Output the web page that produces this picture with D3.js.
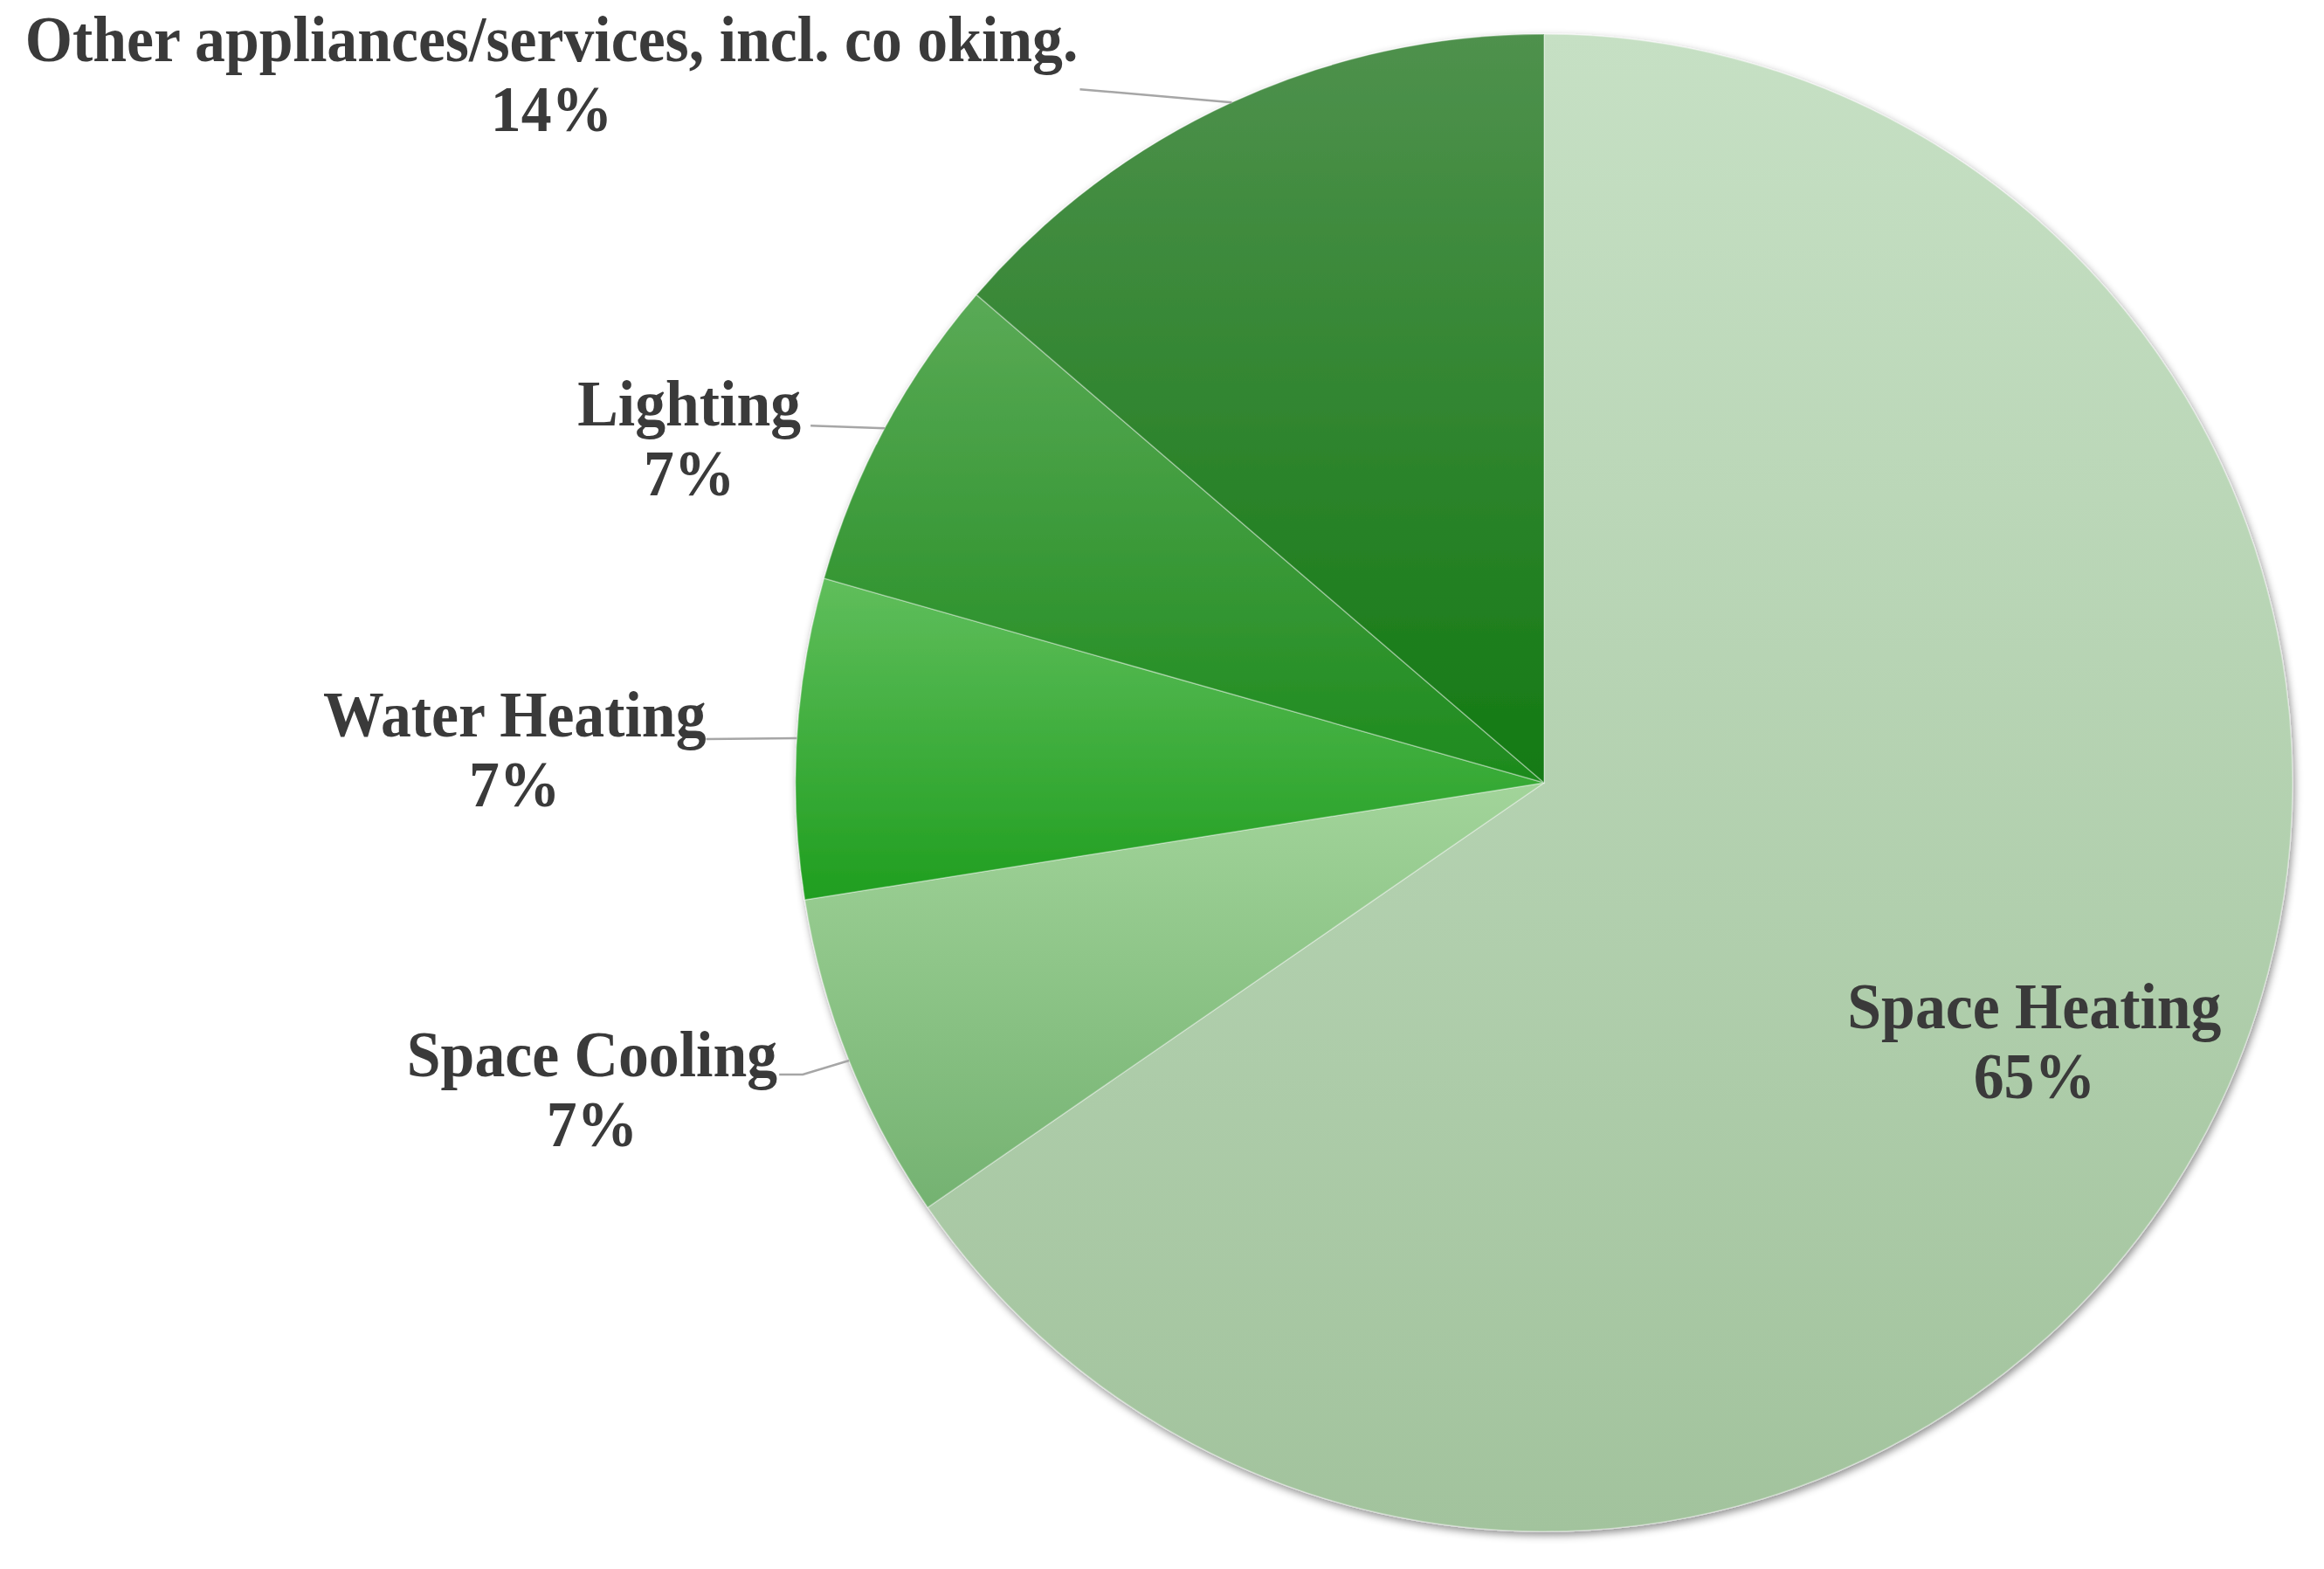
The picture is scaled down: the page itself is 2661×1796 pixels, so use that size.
<!DOCTYPE html>
<head>
<style>
  body { margin: 0; background: #fff; }
  .label { font-family: "Liberation Serif", "Times New Roman", serif; font-weight: bold; font-size: 75px; fill: #3a3a3a; }
  .leader { fill: none; stroke: #a6a6a6; stroke-width: 2.5px; }
</style>
</head>
<body>
<script src="https://cdn.jsdelivr.net/npm/d3@7"></script>
<script>
// values
var categories = ["Space Heating", "Space Cooling", "Water Heating", "Lighting", "Other appliances/services, incl. co oking."];
var shares = [65.4, 7.1, 6.9, 6.9, 13.7];
var shareLabels = ["65%", "7%", "7%", "7%", "14%"];
var topColors = ["#c6e0c4", "#a2d49a", "#60be5c", "#5aaa56", "#4f914d"];
var bottomColors = ["#a2c39d", "#74b271", "#1f9e1f", "#1d8a1d", "#137a13"];

var width = 2661, height = 1796;
var cx = 1768, cy = 896, radius = 857;

// label placement (offsets from the rim point at each slice's mid angle)
var labelLayout = [
    {inside: true, r: 0.74, dy: -14},
    {bend: [-53, 16], end: [-80, 16], gap: 2, dy: 2},
    {end: [-104, 1], gap: 0, dy: -3},
    {end: [-85, -3], gap: 11, dy: 0},
    {end: [-174, -15], gap: 2, dy: -32}
];
var lineHeight = 80;
var squeeze = 0.93; // serif labels in the picture are slightly condensed

var svg = d3.select("body").append("svg")
    .attr("width", width)
    .attr("height", height);

svg.append("rect").attr("width", width).attr("height", height).attr("fill", "#fff");

var defs = svg.append("defs");
var shadow = defs.append("filter").attr("id", "shadow")
    .attr("x", "-10%").attr("y", "-10%").attr("width", "120%").attr("height", "120%");
shadow.append("feDropShadow")
    .attr("dx", 2).attr("dy", 4).attr("stdDeviation", 5)
    .attr("flood-color", "#000").attr("flood-opacity", 0.45);

categories.forEach(function(c, i) {
    var g = defs.append("linearGradient").attr("id", "grad" + i)
        .attr("x1", "0%").attr("y1", "0%").attr("x2", "0%").attr("y2", "100%");
    g.append("stop").attr("offset", "0%").attr("stop-color", topColors[i]);
    g.append("stop").attr("offset", "100%").attr("stop-color", bottomColors[i]);
});

var pie = d3.pie().sort(null).value(function(d) { return d; });
var arcs = pie(shares);
var arc = d3.arc().innerRadius(0).outerRadius(radius);

var chart = svg.append("g").attr("transform", "translate(" + cx + "," + cy + ")");

chart.append("g").attr("filter", "url(#shadow)")
    .selectAll("path")
    .data(arcs)
    .enter().append("path")
    .attr("d", arc)
    .attr("fill", function(d, i) { return "url(#grad" + i + ")"; })
    .attr("stroke", "rgba(255,255,255,0.35)")
    .attr("stroke-width", 1.5);

function rimPoint(d, r) {
    var a = (d.startAngle + d.endAngle) / 2;
    return [r * Math.sin(a), -r * Math.cos(a)];
}

// two centred lines, each squeezed horizontally; returns width of first line
function addLines(t, lines) {
    var widths = [];
    lines.forEach(function(s) {
        var sp = t.append("tspan").text(s);
        var w = sp.node().getComputedTextLength() * squeeze;
        sp.attr("textLength", w).attr("lengthAdjust", "spacingAndGlyphs");
        widths.push(w);
    });
    return widths[0];
}

arcs.forEach(function(d, i) {
    var lay = labelLayout[i];
    var lines = [categories[i], shareLabels[i]];
    var t = chart.append("text").attr("class", "label").attr("text-anchor", "middle");
    var w = addLines(t, lines);
    var mid, base;
    if (lay.inside) {
        var p = rimPoint(d, radius * lay.r);
        mid = p[0];
        base = p[1] + lay.dy;
    } else {
        var rim = rimPoint(d, radius);
        var end = [rim[0] + lay.end[0], rim[1] + lay.end[1]];
        var pts = [rim];
        if (lay.bend) pts.push([rim[0] + lay.bend[0], rim[1] + lay.bend[1]]);
        pts.push(end);
        chart.insert("path", "text").attr("class", "leader").attr("d", d3.line()(pts));
        mid = end[0] - lay.gap - w / 2;
        base = end[1] + lay.dy;
    }
    t.selectAll("tspan")
        .attr("x", mid)
        .attr("y", function(s, k) { return base + k * lineHeight; });
});
</script>
</body>
